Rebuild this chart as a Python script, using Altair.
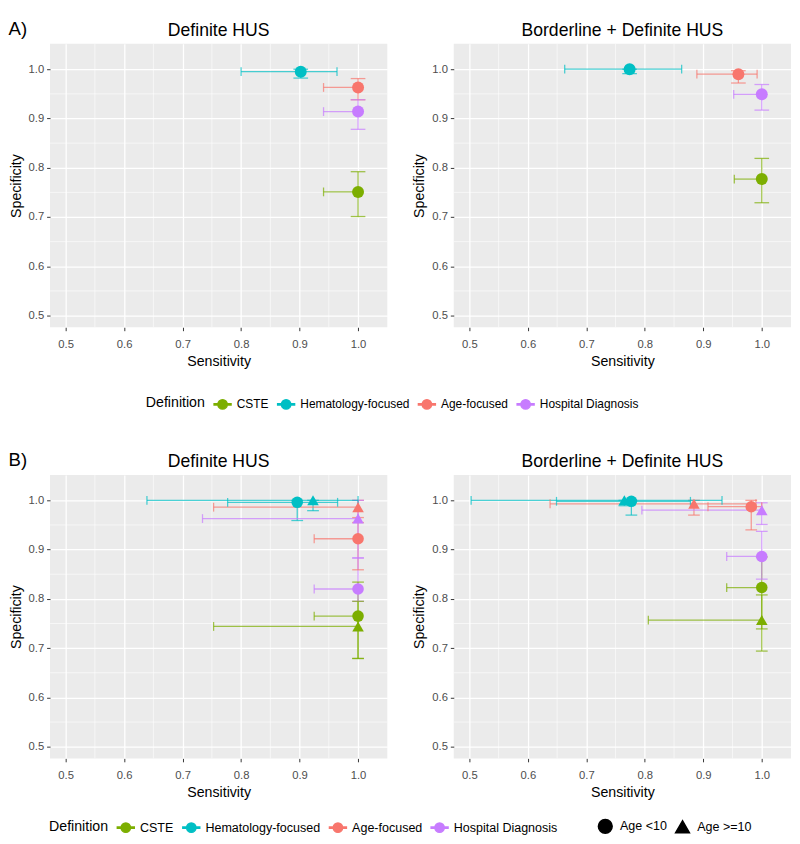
import altair as alt
import pandas as pd

FONT = "Liberation Sans"

DEFINITIONS = ["CSTE", "Hematology-focused", "Age-focused", "Hospital Diagnosis"]
COLORS = ["#7CAE00", "#00BFC4", "#F8766D", "#C77CFF"]
AGE_GROUPS = ["Age <10", "Age >=10"]
AGE_SHAPES = ["circle", "triangle-up"]
MAJOR_TICKS = [0.5, 0.6, 0.7, 0.8, 0.9, 1.0]
MINOR_TICKS = [0.55, 0.65, 0.75, 0.85, 0.95]

# ---- A) all ages (order follows DEFINITIONS) ----
A_DEF_SENS    = [1.000, 0.902, 1.000, 1.000]
A_DEF_SENS_LO = [0.941, 0.800, 0.941, 0.941]
A_DEF_SENS_HI = [1.000, 0.964, 1.000, 1.000]
A_DEF_SPEC    = [0.751, 0.995, 0.963, 0.914]
A_DEF_SPEC_LO = [0.701, 0.982, 0.938, 0.878]
A_DEF_SPEC_HI = [0.792, 1.000, 0.981, 0.938]

A_BDL_SENS    = [1.000, 0.774, 0.960, 1.000]
A_BDL_SENS_LO = [0.953, 0.663, 0.889, 0.952]
A_BDL_SENS_HI = [1.000, 0.863, 0.992, 1.000]
A_BDL_SPEC    = [0.777, 1.000, 0.990, 0.949]
A_BDL_SPEC_LO = [0.729, 0.991, 0.972, 0.917]
A_BDL_SPEC_HI = [0.819, 1.000, 0.997, 0.969]

# ---- B) by age group ----
B_DEFS = ["CSTE", "CSTE", "Hematology-focused", "Hematology-focused",
          "Age-focused", "Age-focused", "Hospital Diagnosis", "Hospital Diagnosis"]
B_AGES = ["Age <10", "Age >=10"] * 4

B_DEF_SENS    = [1.000, 1.000, 0.896, 0.923, 1.000, 1.000, 1.000, 1.000]
B_DEF_SENS_LO = [0.925, 0.753, 0.777, 0.639, 0.925, 0.753, 0.925, 0.734]
B_DEF_SENS_HI = [1.000, 1.000, 0.965, 1.000, 1.000, 1.000, 1.000, 1.000]
B_DEF_SPEC    = [0.765, 0.744, 0.996, 1.000, 0.922, 0.986, 0.820, 0.963]
B_DEF_SPEC_LO = [0.679, 0.679, 0.959, 0.979, 0.859, 0.955, 0.795, 0.883]
B_DEF_SPEC_HI = [0.834, 0.795, 1.000, 1.000, 0.965, 1.000, 0.883, 1.000]

B_BDL_SENS    = [1.000, 1.000, 0.777, 0.765, 0.982, 0.884, 1.000, 1.000]
B_BDL_SENS_LO = [0.940, 0.806, 0.649, 0.503, 0.908, 0.638, 0.940, 0.795]
B_BDL_SENS_HI = [1.000, 1.000, 0.878, 0.932, 1.000, 0.990, 1.000, 1.000]
B_BDL_SPEC    = [0.823, 0.757, 0.998, 1.000, 0.987, 0.993, 0.886, 0.980]
B_BDL_SPEC_LO = [0.739, 0.694, 0.970, 0.989, 0.940, 0.970, 0.840, 0.951]
B_BDL_SPEC_HI = [0.885, 0.808, 1.000, 1.000, 1.000, 1.000, 0.937, 0.995]


def frame(defs, ages, sens, slo, shi, spec, plo, phi):
    return pd.DataFrame({
        "definition": defs, "age": ages,
        "sens": sens, "sens_lo": slo, "sens_hi": shi,
        "spec": spec, "spec_lo": plo, "spec_hi": phi,
    })


df_a1 = frame(DEFINITIONS, ["All"] * 4, A_DEF_SENS, A_DEF_SENS_LO, A_DEF_SENS_HI,
              A_DEF_SPEC, A_DEF_SPEC_LO, A_DEF_SPEC_HI)
df_a2 = frame(DEFINITIONS, ["All"] * 4, A_BDL_SENS, A_BDL_SENS_LO, A_BDL_SENS_HI,
              A_BDL_SPEC, A_BDL_SPEC_LO, A_BDL_SPEC_HI)
df_b1 = frame(B_DEFS, B_AGES, B_DEF_SENS, B_DEF_SENS_LO, B_DEF_SENS_HI,
              B_DEF_SPEC, B_DEF_SPEC_LO, B_DEF_SPEC_HI)
df_b2 = frame(B_DEFS, B_AGES, B_BDL_SENS, B_BDL_SENS_LO, B_BDL_SENS_HI,
              B_BDL_SPEC, B_BDL_SPEC_LO, B_BDL_SPEC_HI)

XS = alt.Scale(domain=[0.4733, 1.05], nice=False, zero=False)
YS = alt.Scale(domain=[0.4762, 1.0516], nice=False, zero=False)

AXIS_COMMON = dict(values=MAJOR_TICKS, format=".1f", grid=True, gridColor="white",
                   gridWidth=1.3, domain=False, ticks=True, tickColor="#333333",
                   tickSize=3.5, tickWidth=1, labelColor="#4D4D4D", labelFontSize=11.5,
                   labelFont=FONT, titleFont=FONT, titleFontSize=14.5,
                   titleColor="black", titleFontWeight="normal")
X_AXIS = alt.Axis(labelPadding=8, titlePadding=5, **AXIS_COMMON)
Y_AXIS = alt.Axis(labelPadding=3, titlePadding=5, **AXIS_COMMON)

KEY_PATH = ("M-1,-0.07H1V0.07H-1Z"
            "M0.55,0A0.55,0.55,0,1,1,-0.55,0A0.55,0.55,0,1,1,0.55,0Z")


def color_legend(x, y, fs):
    return alt.Legend(title="Definition", orient="none", legendX=x, legendY=y,
                      direction="horizontal", titleOrient="left", symbolType=KEY_PATH,
                      symbolSize=300, titleFontSize=14.5, labelFontSize=fs,
                      titleFont=FONT, labelFont=FONT, titleFontWeight="normal",
                      titleColor="black", labelColor="black", columnPadding=5,
                      labelOffset=5, symbolOpacity=1, titlePadding=8)


def shape_legend(x, y, fs):
    return alt.Legend(title=None, orient="none", legendX=x, legendY=y,
                      direction="horizontal", symbolFillColor="black",
                      symbolStrokeColor="black", symbolSize=200, labelFontSize=fs,
                      labelFont=FONT, labelColor="black", columnPadding=4,
                      labelOffset=7)


def panel(df, title, by_age, legend_pos, fs):
    X = lambda f: alt.X(f, scale=XS, axis=X_AXIS, title="Sensitivity")
    Y = lambda f: alt.Y(f, scale=YS, axis=Y_AXIS, title="Specificity")
    col = alt.Color("definition:N", scale=alt.Scale(domain=DEFINITIONS, range=COLORS),
                    legend=color_legend(*legend_pos[0], fs))
    cap_w = 12 if by_age else 15

    minor_x = alt.Chart(pd.DataFrame({"v": MINOR_TICKS})).mark_rule(
        color="white", strokeWidth=0.6).encode(x=X("v:Q"))
    minor_y = alt.Chart(pd.DataFrame({"v": MINOR_TICKS})).mark_rule(
        color="white", strokeWidth=0.6).encode(y=Y("v:Q"))

    base = alt.Chart(df)
    vbar = base.mark_rule(strokeWidth=1.3, opacity=0.7).encode(
        x=X("sens:Q"), y=Y("spec_lo:Q"), y2="spec_hi:Q", color=col)
    vcap_lo = base.mark_tick(orient="horizontal", size=cap_w, thickness=1.3,
                             opacity=0.7).encode(x=X("sens:Q"), y=Y("spec_lo:Q"), color=col)
    vcap_hi = base.mark_tick(orient="horizontal", size=cap_w, thickness=1.3,
                             opacity=0.7).encode(x=X("sens:Q"), y=Y("spec_hi:Q"), color=col)
    hbar = base.mark_rule(strokeWidth=1.3, opacity=0.7).encode(
        x=X("sens_lo:Q"), x2="sens_hi:Q", y=Y("spec:Q"), color=col)
    hcap_lo = base.mark_tick(orient="vertical", size=9, thickness=1.3,
                             opacity=0.7).encode(x=X("sens_lo:Q"), y=Y("spec:Q"), color=col)
    hcap_hi = base.mark_tick(orient="vertical", size=9, thickness=1.3,
                             opacity=0.7).encode(x=X("sens_hi:Q"), y=Y("spec:Q"), color=col)

    if by_age:
        shp = alt.Shape("age:N", scale=alt.Scale(domain=AGE_GROUPS, range=AGE_SHAPES),
                        legend=shape_legend(*legend_pos[1], fs))
        size = 140
    else:
        shp = alt.value("circle")
        size = 150
    pts = base.mark_point(filled=True, opacity=1, size=size).encode(
        x=X("sens:Q"), y=Y("spec:Q"), color=col, shape=shp)

    return alt.layer(minor_x, minor_y, vbar, vcap_lo, vcap_hi, hbar, hcap_lo, hcap_hi,
                     pts).properties(
        width=345, height=290,
        title=alt.TitleParams(title, fontSize=18, font=FONT, fontWeight="normal",
                              color="black", anchor="middle", offset=4))


def row(df1, df2, label, by_age, legend_pos, fs):
    return alt.hconcat(
        panel(df1, "Definite HUS", by_age, legend_pos, fs),
        panel(df2, "Borderline + Definite HUS", by_age, legend_pos, fs),
        spacing=24,
        title=alt.TitleParams(label, anchor="start", fontSize=19, font=FONT,
                              fontWeight="normal", color="black", offset=-17,
                              frame="bounds"),
    )


chart = alt.vconcat(
    row(df_a1, df_a2, "A)", False, [(98, 359)], 12.2),
    row(df_b1, df_b2, "B)", True, [(-1, 351), (560, 351)], 12.8),
    spacing=39,
).resolve_scale(color="independent", shape="independent").resolve_legend(
    color="independent", shape="independent"
).configure_view(fill="#EBEBEB", stroke=None).properties(
    padding={"left": 0, "top": 2, "right": 0, "bottom": 0}
)

chart.save("out.html", embed_options={"renderer": "svg", "actions": False})
